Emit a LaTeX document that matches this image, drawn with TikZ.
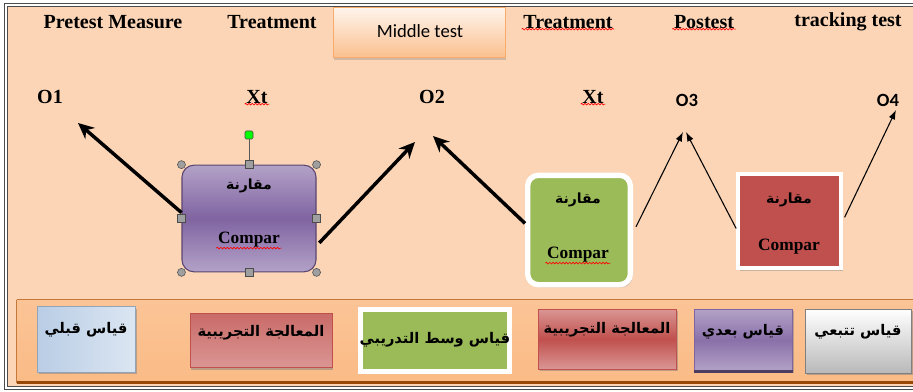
\documentclass[tikz,border=0pt]{standalone}
\usepackage{fontspec}
\setmainfont{Liberation Serif}
\newfontfamily\arabicfont[Script=Arabic]{DejaVu Sans}
\newfontfamily\calibrifont{Carlito}
\TeXXeTstate=1
\usetikzlibrary{arrows.meta,shadows,decorations.pathmorphing}

\definecolor{peach}{RGB}{251,213,181}
\definecolor{bandorange}{RGB}{247,150,70}
\definecolor{bandlight}{RGB}{251,196,150}
\definecolor{bandedge}{RGB}{152,72,7}
\definecolor{boxpurple}{RGB}{128,100,162}
\definecolor{boxlilac}{RGB}{179,162,199}
\definecolor{boxgreen}{RGB}{155,187,89}
\definecolor{boxred}{RGB}{192,80,77}
\definecolor{boxpink}{RGB}{218,150,148}
\definecolor{boxblue}{RGB}{185,205,229}
\definecolor{boxpaleblue}{RGB}{220,230,242}

\tikzset{every picture/.style={line width=0.75pt}}
\tikzset{
  toplbl/.style={font=\bfseries\fontsize{15}{17}\selectfont, inner sep=1pt},
  arlbl/.style={font=\arabicfont\bfseries\fontsize{11}{13}\selectfont, inner sep=1pt},
  boxar/.style={font=\arabicfont\bfseries\fontsize{10.5}{12}\selectfont, inner sep=1pt},
  cmplbl/.style={font=\bfseries\fontsize{13}{15}\selectfont, inner sep=1pt},
  thickarr/.style={line width=2.6pt, -{Stealth[length=12pt,width=11pt]}},
  thinarr/.style={line width=0.8pt, -{Latex[length=7pt,width=5pt]}},
  spell/.style={red, line width=0.5pt, decorate, decoration={snake, amplitude=0.6pt, segment length=2.5pt}},
  handle/.style={fill=gray!75, draw=gray!60!black, line width=0.4pt, inner sep=0pt},
  lowbox/.style={draw, line width=0.6pt, inner sep=0pt, drop shadow={shadow xshift=1pt, shadow yshift=-1.5pt, opacity=0.5}}
}

\begin{document}
\begin{tikzpicture}[x=0.75pt,y=0.75pt,yscale=-1,xscale=1]
\useasboundingbox (0,0) rectangle (913,392);

%Frame
\fill[peach] (6,5) rectangle (925,388);
\draw[draw=gray!60!black, double=white, double distance=1.2pt] (6,5) rectangle (925,388);

%Top heads
\node[toplbl] (pre) at (113,22) {Pretest Measure};
\node[toplbl] (treatA) at (272,22) {Treatment};
\node[draw=bandorange!80!white, line width=0.5pt, top color=white!75!peach, bottom color=bandlight!90!bandorange, minimum width=129pt, minimum height=38pt, drop shadow={shadow xshift=1pt, shadow yshift=-2pt, opacity=0.35}] (midbox) at (419,32.5) {};
\node[font=\calibrifont\fontsize{14}{16}\selectfont] (mid) at (420,31) {Middle test};
\node[toplbl] (treatB) at (568,22) {Treatment};
\node[toplbl] (post) at (704,22) {Postest};
\node[toplbl] (track) at (848,22) {tracking test};

% Text Node
\node[toplbl] (O1) at (50,97) {O1};
\node[toplbl] (XtA) at (257,97) {Xt};
\node[toplbl] (O2) at (432,97) {O2};
\node[toplbl] (XtB) at (593,97) {Xt};
\node[font=\calibrifont\bfseries\fontsize{14}{16}\selectfont] (O3) at (687,100) {O3};
\node[font=\calibrifont\bfseries\fontsize{14}{16}\selectfont] (O4) at (888,100) {O4};

%Compar boxes
\node[draw=boxpurple!70!black, line width=0.8pt, rounded corners=9pt, minimum width=100.5pt, minimum height=80pt,
  top color=boxlilac, bottom color=boxlilac, middle color=boxpurple] (purple) at (249,218.5) {};
\node[boxar] (purpleAr) at (249,186) {\beginR مقارنة\endR};
\node[cmplbl] (purpleEn) at (249,240) {Compar};

\node[draw=white, line width=4pt, rounded corners=8pt, fill=boxgreen, minimum width=77pt, minimum height=82pt,
  drop shadow={shadow xshift=1.5pt, shadow yshift=-2pt, opacity=0.4}] (green) at (579,230) {};
\node[boxar] (greenAr) at (578,200) {\beginR مقارنة\endR};
\node[cmplbl] (greenEn) at (578,255) {Compar};

\node[draw=white, line width=3pt, fill=boxred, minimum width=77pt, minimum height=70.5pt,
  drop shadow={shadow xshift=1.5pt, shadow yshift=-2pt, opacity=0.4}] (red) at (789.5,221) {};
\node[boxar] (redAr) at (789,200) {\beginR مقارنة\endR};
\node[cmplbl] (redEn) at (789,247) {Compar};

%Handles
\node[handle, circle, minimum size=6pt] (h1) at (purple.north west) {};
\node[handle, circle, minimum size=6pt] (h2) at (purple.north east) {};
\node[handle, circle, minimum size=6pt] (h3) at (purple.south west) {};
\node[handle, circle, minimum size=6pt] (h4) at (purple.south east) {};
\node[handle, minimum size=6pt] (h5) at (purple.north) {};
\node[handle, minimum size=6pt] (h6) at (purple.south) {};
\node[handle, minimum size=6pt] (h7) at (purple.west) {};
\node[handle, minimum size=6pt] (h8) at (purple.east) {};
\node[handle, fill=green, rounded corners=1pt, minimum size=6pt] (rot) at (249,135) {};
\draw[gray!70!black, line width=0.6pt] (rot) -- (h5);

%Arrow tips
\coordinate (t1) at (78,123);
\coordinate (t2) at (415,142);
\coordinate (t3) at (433,136);
\coordinate (t4) at (683,132);
\coordinate (t5) at (686,132);
\coordinate (t6) at (896,110);

%Arrows
\draw[thickarr] (purple.175) -- (t1);
\draw[thickarr, shorten <=3pt] (purple.-22) -- (t2);
\draw[thickarr] (green.173) -- (t3);
\draw[thinarr, shorten <=5pt] (green.-3) -- (t4);
\draw[thinarr] (red.188) -- (t5);
\draw[thinarr, shorten <=3pt] (red.east) -- (t6);

%Spell marks
\draw[spell] ([yshift=-1pt]XtA.south west) -- ([yshift=-1pt]XtA.south east);
\draw[spell] ([yshift=-1pt]XtB.south west) -- ([yshift=-1pt]XtB.south east);
\draw[spell] ([yshift=-1pt]treatB.south west) -- ([yshift=-1pt]treatB.south east);
\draw[spell] ([yshift=-1pt]post.south west) -- ([yshift=-1pt]post.south east);
\draw[spell] ([yshift=-1pt]purpleEn.south west) -- ([yshift=-1pt]purpleEn.south east);
\draw[spell] ([yshift=-1pt]greenEn.south west) -- ([yshift=-1pt]greenEn.south east);

%Bottom band
\node[inner sep=0pt, minimum width=677pt, minimum height=61.5pt, top color=bandlight, middle color=bandorange, bottom color=bandlight!80!bandorange] (band) at (468.5,341) {};
\draw[bandorange!80!black, line width=0.6pt] (band.north west) -- (band.north east);
\draw[bandedge, line width=2pt] (band.south west) -- (band.south east);
\draw[bandorange!80!black, line width=0.6pt] (band.north west) -- (band.south west);

%Bottom boxes
\node[lowbox, draw=boxblue!80!black, left color=boxblue, right color=boxpaleblue, minimum width=74pt, minimum height=49pt] (b1) at (86.5,339.5) {};
\node[arlbl] (b1t) at (86,330) {\beginR قياس قبلي\endR};

\node[lowbox, draw=boxred, top color=boxred!85!white, bottom color=boxpink, minimum width=106.5pt, minimum height=41pt] (b2) at (261,340.5) {};
\node[arlbl] (b2t) at (261,333) {\beginR المعالجة التجريبية\endR};

\node[lowbox, draw=white, line width=3.5pt, fill=boxgreen, minimum width=112pt, minimum height=46.5pt] (b3) at (435,340.5) {};
\node[arlbl] (b3t) at (435,340) {\beginR قياس  وسط التدريبي\endR};

\node[lowbox, draw=boxred, top color=boxpink, bottom color=boxpink, middle color=boxred, minimum width=103pt, minimum height=45pt] (b4) at (607.5,339) {};
\node[arlbl] (b4t) at (607,330) {\beginR المعالجة التجريبية\endR};

\node[lowbox, draw=boxpurple, top color=boxlilac, bottom color=boxlilac, middle color=boxpurple!80!boxlilac, minimum width=74pt, minimum height=46.5pt] (b5) at (743.5,340) {};
\draw[boxpurple!60!black, line width=2pt] (b5.south west) -- (b5.south east);
\node[arlbl] (b5t) at (743,332) {\beginR قياس بعدي\endR};

\node[lowbox, draw=gray, top color=white, bottom color=gray!55, minimum width=79pt, minimum height=48pt] (b6) at (858.5,341) {};
\node[arlbl] (b6t) at (858,332) {\beginR قياس تتبعي\endR};

\end{tikzpicture}
\end{document}
